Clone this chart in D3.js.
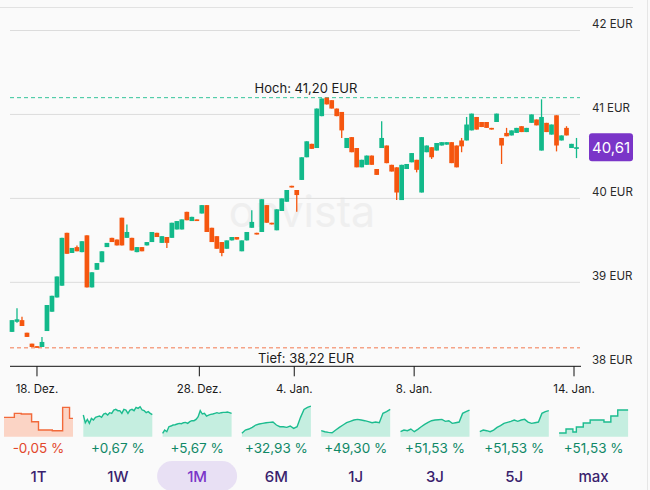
<!DOCTYPE html>
<html>
<head>
<meta charset="utf-8">
<script src="https://cdn.jsdelivr.net/npm/d3@7"></script>
<style>
  body { margin: 0; background: #fafafa; }
  svg { display: block; font-family: Inter, "Noto Sans", sans-serif; }
</style>
</head>
<body>
<svg id="chart" width="650" height="490"></svg>
<script>
// candle data (1M view), one entry per period
const opens = [38.41,38.53,38.55,38.40,38.27,38.24,38.23,38.42,38.65,38.82,38.96,39.59,39.35,39.42,39.36,39.56,38.94,39.15,39.24,39.42,
  39.53,39.51,39.77,39.53,39.53,39.36,39.42,39.44,39.48,39.59,39.47,39.54,39.53,39.63,39.63,39.84,39.73,39.75,39.82,39.92,
  39.65,39.55,39.48,39.40,39.50,39.54,39.37,39.50,39.65,39.59,39.60,39.92,39.71,39.62,39.85,39.96,40.15,40.10,40.22,40.49,
  40.65,40.60,40.98,41.20,41.17,41.07,41.03,40.60,40.73,40.60,40.37,40.40,40.51,40.35,40.60,40.63,40.40,40.37,39.98,40.35,
  40.43,40.46,40.07,40.55,40.61,40.57,40.63,40.64,40.67,40.63,40.69,40.69,40.81,40.97,40.91,40.91,40.84,40.91,40.72,40.78,
  40.75,40.78,40.86,40.79,40.90,40.94,40.57,40.90,40.76,40.99,40.69,40.84,40.60,40.59];
const closes = [38.55,38.56,38.48,38.35,38.23,38.22,38.29,38.73,38.84,39.07,39.53,39.34,39.41,39.37,39.49,38.94,39.12,39.23,39.37,39.47,
  39.48,39.44,39.44,39.60,39.38,39.42,39.37,39.48,39.60,39.54,39.55,39.47,39.71,39.73,39.75,39.74,39.78,39.73,39.92,39.60,
  39.48,39.40,39.35,39.50,39.54,39.51,39.50,39.60,39.72,39.57,39.99,39.71,39.69,39.87,40.00,40.10,40.13,40.04,40.49,40.68,
  40.59,41.07,41.19,41.12,41.07,40.98,40.81,40.72,40.55,40.37,40.46,40.51,40.40,40.28,40.72,40.42,40.32,40.07,40.40,40.41,
  40.54,40.34,40.73,40.63,40.49,40.66,40.67,40.67,40.42,40.37,40.62,40.88,41.01,40.82,40.85,40.84,40.82,41.01,40.63,40.74,
  40.81,40.84,40.79,40.84,41.00,40.87,40.97,40.79,40.88,40.63,40.75,40.75,40.65,40.61];
const highs = [38.55,38.69,38.59,38.40,38.27,38.24,38.35,38.73,38.84,39.07,39.53,39.59,39.41,39.44,39.49,39.56,39.12,39.23,39.37,39.47,
  39.53,39.51,39.77,39.69,39.53,39.42,39.42,39.48,39.60,39.59,39.55,39.54,39.71,39.73,39.75,39.84,39.78,39.75,39.92,39.92,
  39.65,39.55,39.48,39.50,39.54,39.54,39.50,39.60,39.86,39.59,39.99,39.92,39.71,39.87,40.00,40.10,40.15,40.10,40.49,40.68,
  40.65,41.07,41.19,41.20,41.17,41.07,41.03,40.72,40.73,40.60,40.46,40.51,40.51,40.35,40.92,40.63,40.40,40.37,40.40,40.41,
  40.54,40.46,40.73,40.63,40.61,40.66,40.67,40.67,40.67,40.63,40.72,40.97,41.01,40.97,40.91,40.91,40.84,41.01,40.72,40.84,
  40.81,40.84,40.86,40.84,41.00,40.94,41.18,40.90,40.88,40.99,40.75,40.86,40.65,40.72];
const lows = [38.41,38.52,38.48,38.35,38.23,38.22,38.23,38.42,38.65,38.82,38.96,39.34,39.35,39.37,39.36,38.94,38.94,39.15,39.24,39.42,
  39.48,39.44,39.44,39.53,39.38,39.36,39.37,39.44,39.48,39.54,39.47,39.41,39.53,39.63,39.63,39.74,39.73,39.73,39.82,39.60,
  39.48,39.40,39.31,39.40,39.50,39.51,39.37,39.50,39.65,39.57,39.60,39.71,39.69,39.62,39.85,39.96,40.13,39.84,40.22,40.49,
  40.59,40.60,40.98,41.12,41.07,40.98,40.72,40.60,40.55,40.37,40.37,40.40,40.40,40.28,40.60,40.42,40.32,39.98,39.98,40.35,
  40.43,40.31,40.07,40.55,40.47,40.57,40.63,40.64,40.42,40.37,40.55,40.69,40.81,40.82,40.85,40.84,40.82,40.91,40.41,40.74,
  40.75,40.78,40.79,40.79,40.90,40.87,40.57,40.79,40.76,40.56,40.69,40.75,40.60,40.48];

const priceTicks = [38, 39, 40, 41, 42];
const dateTickIdx = [5, 37.5, 56.5, 80.5, 112.5];
const dateTickLabels = ["18. Dez.", "28. Dez.", "4. Jan.", "8. Jan.", "14. Jan."];
const lastPrice = 40.61;

// period selector with mini charts
const periods = ["1T", "1W", "1M", "6M", "1J", "3J", "5J", "max"];
const periodPerf = [-0.05, 0.67, 5.67, 32.93, 49.30, 51.53, 51.53, 51.53];
const activePeriod = "1M";
const sparkStep = [true, false, false, false, false, false, false, true];
const sparkLevels = [
  [58,58,58,70,70,68,68,68,45,45,20,20,20,20,18,18,18,88,88,55,55],
  [65,42,52,40,55,50,58,60,62,58,68,70,65,72,70,80,82,78,78,70,82,80,70,80,82,78,88,85,90,80,78,72,75,70,66],
  [10,20,15,30,32,35,36,38,40,39,42,43,40,45,48,48,52,60,78,68,70,62,65,67,68,70,72,70,72,73,73,74,72,70],
  [10,20,23,28,35,38,40,42,43,44,35,30,30,28,32,25,30,58,82,88,92],
  [18,15,13,12,20,28,35,42,46,50,52,50,48,45,42,44,42,70,75,82],
  [15,20,18,23,15,22,30,37,43,48,50,51,52,46,48,40,42,44,70,75,80],
  [15,20,18,15,20,28,33,40,43,46,50,46,50,52,44,40,42,44,70,75,78],
  [11,11,23,23,14,29,29,41,41,50,50,50,50,44,44,62,62,80,80,80,80]
];

const GREEN = "#12b98a";
const RED = "#f5560f";

const de = d3.formatLocale({ decimal: ",", thousands: ".", grouping: [3], currency: ["", " EUR"], minus: "-" });
const fmt2 = de.format(".2f");
const fmtPerf = de.format("+.2f");

const svg = d3.select("#chart");
const candles = opens.map((o, i) => ({ i, o, c: closes[i], h: highs[i], l: lows[i] }));

const x = d3.scaleLinear().domain([0, candles.length - 1]).range([12, 576.5]);
const y = d3.scaleLinear().domain([38, 42]).range([366.3, 30.5]);
const gridLeft = 10, gridRight = 580;

// frame
svg.append("line").attr("x1", 0).attr("x2", 633).attr("y1", 7.5).attr("y2", 7.5)
  .attr("stroke", "#e2e2e2");
svg.append("line").attr("x1", 647.5).attr("x2", 647.5).attr("y1", 0).attr("y2", 490)
  .attr("stroke", "#e6e6e6");

// watermark
svg.append("text").attr("x", 302).attr("y", 227).attr("text-anchor", "middle")
  .attr("font-size", 43).attr("fill", "#efefef").text("onvista");

// grid + price labels
const grid = svg.append("g").attr("class", "grid");
grid.selectAll("line")
  .data(priceTicks.filter(d => d > 38))
  .join("line")
  .attr("x1", gridLeft).attr("x2", gridRight)
  .attr("y1", d => y(d)).attr("y2", d => y(d))
  .attr("stroke", "#dcdcdc");
grid.selectAll("text")
  .data(priceTicks)
  .join("text")
  .attr("x", 592).attr("y", d => y(d) - 2.5)
  .attr("font-size", 11.5).attr("fill", "#2a2a2a")
  .text(d => `${d} EUR`);

// x axis
const xAxis = svg.append("g").attr("class", "x-axis");
xAxis.append("line").attr("x1", gridLeft).attr("x2", gridRight + 1)
  .attr("y1", y(38)).attr("y2", y(38)).attr("stroke", "#111");
xAxis.selectAll("line.tick")
  .data(dateTickIdx)
  .join("line")
  .attr("class", "tick")
  .attr("x1", d => x(d)).attr("x2", d => x(d))
  .attr("y1", y(38)).attr("y2", y(38) + 10)
  .attr("stroke", "#111");
xAxis.selectAll("text")
  .data(dateTickIdx)
  .join("text")
  .attr("x", d => x(d)).attr("y", 393)
  .attr("text-anchor", "middle").attr("font-size", 11.5).attr("fill", "#1a1a1a")
  .text((d, i) => dateTickLabels[i]);

// high / low markers
const hi = d3.max(highs), lo = d3.min(lows);
const marks = [
  { v: hi, label: `Hoch: ${fmt2(hi)} EUR`, color: "#33c49a", dy: -4.5 },
  { v: lo, label: `Tief: ${fmt2(lo)} EUR`, color: "#f2784e", dy: 15 }
];
const markG = svg.append("g").attr("class", "hilo");
markG.selectAll("line")
  .data(marks)
  .join("line")
  .attr("x1", gridLeft).attr("x2", gridRight)
  .attr("y1", d => y(d.v)).attr("y2", d => y(d.v))
  .attr("stroke", d => d.color).attr("stroke-dasharray", "4,3");
markG.selectAll("text")
  .data(marks)
  .join("text")
  .attr("x", 306).attr("y", d => y(d.v) + d.dy)
  .attr("text-anchor", "middle").attr("font-size", 13).attr("fill", "#1a1a1a")
  .text(d => d.label);

// candles
const bodyW = 4.7;
const cg = svg.append("g").attr("class", "candles")
  .selectAll("g.candle")
  .data(candles)
  .join("g")
  .attr("class", "candle")
  .attr("fill", d => d.c >= d.o ? GREEN : RED)
  .attr("stroke", d => d.c >= d.o ? GREEN : RED);

cg.append("line")
  .attr("x1", d => x(d.i)).attr("x2", d => x(d.i))
  .attr("y1", d => y(d.h)).attr("y2", d => y(d.l))
  .attr("stroke-width", 1.3);

cg.append("rect")
  .attr("x", d => x(d.i) - bodyW / 2)
  .attr("width", bodyW)
  .attr("y", d => y(Math.max(d.o, d.c)))
  .attr("height", d => Math.max(1.6, Math.abs(y(d.o) - y(d.c))))
  .attr("stroke", "none");

// last price tag
const tag = svg.append("g").attr("transform", `translate(589,${y(lastPrice)})`);
tag.append("rect").attr("x", 0).attr("y", -14).attr("width", 44).attr("height", 28)
  .attr("rx", 3).attr("fill", "#7a35c8");
tag.append("text").attr("x", 22).attr("y", 5.5).attr("text-anchor", "middle")
  .attr("font-size", 15).attr("fill", "#fff").text(fmt2(lastPrice));

// period panels
const band = d3.scaleBand().domain(periods).range([4, 628.1]).paddingInner(0.13);
const sy = d3.scaleLinear().domain([0, 90]).range([436.7, 406.7]);

const panels = svg.append("g").attr("class", "periods")
  .selectAll("g.period")
  .data(periods.map((p, k) => ({ p, k, perf: periodPerf[k], levels: sparkLevels[k], step: sparkStep[k] })))
  .join("g")
  .attr("class", "period");

panels.each(function (d) {
  const g = d3.select(this);
  const x0 = band(d.p);
  const sx = d3.scaleLinear().domain([0, d.levels.length - 1]).range([x0, x0 + band.bandwidth()]);
  const up = d.perf >= 0;
  const curve = d.step ? d3.curveStepAfter : d3.curveLinear;
  const area = d3.area().x((v, i) => sx(i)).y0(sy(0)).y1(v => sy(v)).curve(curve);
  const line = d3.line().x((v, i) => sx(i)).y(v => sy(v)).curve(curve);
  g.append("path").attr("d", area(d.levels)).attr("fill", up ? "#c5eee0" : "#fbd4c5");
  g.append("path").attr("d", line(d.levels)).attr("fill", "none")
    .attr("stroke", up ? "#1cbc8f" : "#f2693a").attr("stroke-width", 1.4);

  const cx = x0 + band.bandwidth() / 2;
  g.append("text").attr("x", cx).attr("y", 452.5).attr("text-anchor", "middle")
    .attr("font-size", 13.5).attr("fill", up ? "#0f8866" : "#e2472b")
    .text(`${fmtPerf(d.perf)} %`);

  if (d.p === activePeriod) {
    g.append("rect").attr("x", cx - 40).attr("y", 461).attr("width", 80).attr("height", 30)
      .attr("rx", 15).attr("fill", "#e8e0f4");
  }
  g.append("text").attr("x", cx).attr("y", 482).attr("text-anchor", "middle")
    .attr("font-size", 15).attr("font-weight", 500)
    .attr("fill", d.p === activePeriod ? "#7a35c8" : "#3a1f6e")
    .text(d.p);
});
</script>
</body>
</html>
